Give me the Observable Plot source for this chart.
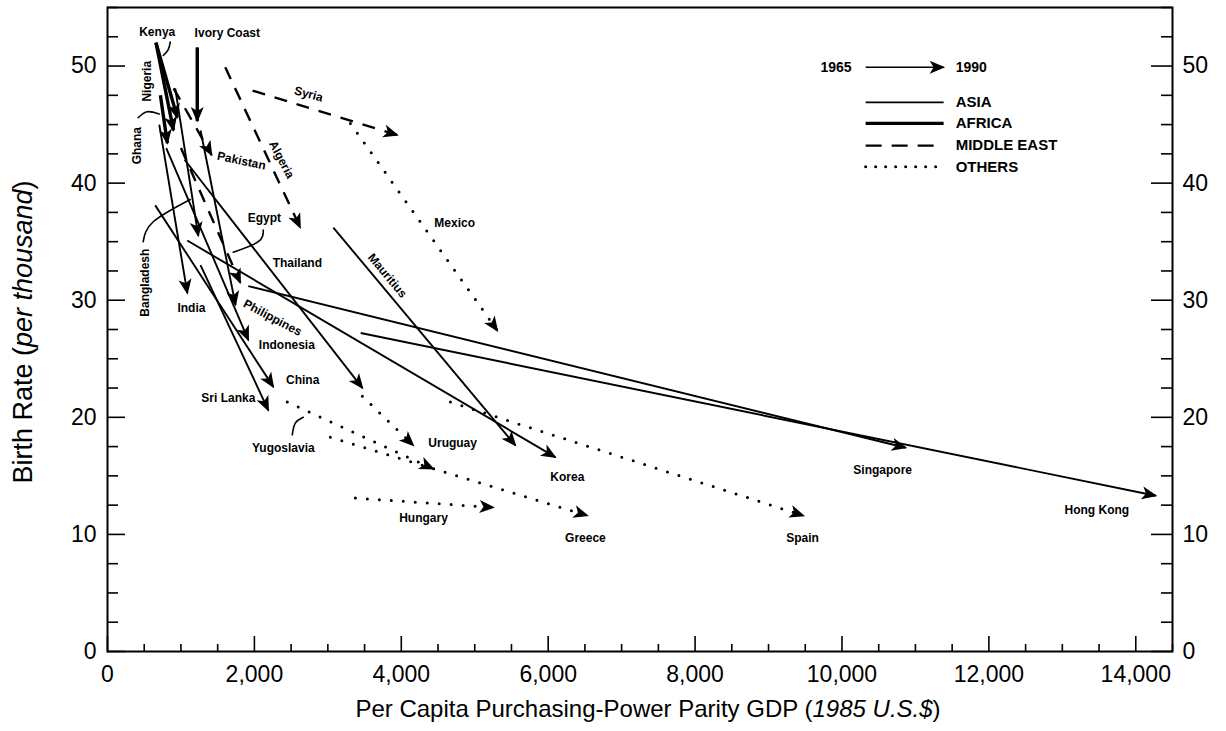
<!DOCTYPE html>
<html><head><meta charset="utf-8">
<script src="https://cdn.jsdelivr.net/npm/d3@7"></script>
<script src="https://cdn.jsdelivr.net/npm/@observablehq/plot@0.6"></script>
<style>body{margin:0;background:#fff} svg{display:block}</style>
</head><body><div id="chart"></div>
<script>
// ---- data: 1965 -> 1990 (line style follows the chart's own encoding) ----
const countries = ["Kenya","Nigeria","Ghana","Ivory Coast","Pakistan","Bangladesh","India","Philippines","Indonesia","China","Sri Lanka","Thailand","Egypt","Algeria","Syria","Korea","Singapore","Hong Kong","Mauritius","Mexico","Uruguay","Yugoslavia","Greece","Hungary","Spain"];
const regions   = ["AFRICA","AFRICA","AFRICA","AFRICA","MIDDLE EAST","ASIA","ASIA","ASIA","ASIA","ASIA","ASIA","ASIA","MIDDLE EAST","MIDDLE EAST","MIDDLE EAST","ASIA","ASIA","ASIA","ASIA","OTHERS","OTHERS","OTHERS","OTHERS","OTHERS","OTHERS"];
const gdp1965   = [660, 660, 720, 1222, 900, 922, 705, 1267, 800, 650, 1266, 1050, 1000, 1603, 1975, 1086, 1917, 3447, 3075, 3307, 3470, 2448, 3034, 3375, 4669];
const birth1965 = [52.0, 52.0, 47.5, 51.6, 48.1, 48.1, 45.0, 44.5, 43.0, 38.1, 33.0, 42.0, 43.0, 49.9, 47.9, 35.1, 31.2, 27.2, 36.2, 45.1, 21.8, 21.3, 18.3, 13.1, 21.3];
const gdp1990   = [950, 898, 815, 1222, 1418, 1236, 1087, 1743, 1918, 2258, 2190, 3472, 1808, 2624, 3947, 6097, 10868, 14273, 5554, 5309, 4165, 4437, 6535, 5255, 9478];
const birth1990 = [45.6, 44.5, 43.4, 45.3, 42.4, 35.5, 30.6, 29.6, 26.6, 22.6, 20.6, 22.5, 31.5, 36.2, 44.1, 16.6, 17.4, 13.3, 17.6, 27.4, 17.6, 15.6, 11.6, 12.3, 11.6];

// ---- country labels (anchor in data units, rotation in degrees) ----
const labelNames = ["Kenya","Ivory Coast","Nigeria","Ghana","Syria","Algeria","Pakistan","Egypt","Thailand","Mexico","Mauritius","India","Bangladesh","Philippines","Indonesia","China","Sri Lanka","Yugoslavia","Uruguay","Korea","Hungary","Greece","Spain","Singapore","Hong Kong"];
const labelX     = [677, 1631, 543, 406, 2738, 2370, 1824, 2137, 2585, 4727, 3810, 1143, 515, 2248, 2442, 2657, 1645, 2394, 4699, 6260, 4303, 6507, 9463, 10554, 13470];
const labelY     = [52.9, 52.8, 48.7, 43.2, 47.6, 42.0, 41.9, 37.0, 33.2, 36.6, 32.1, 29.3, 31.5, 28.5, 26.2, 23.2, 21.6, 17.4, 17.8, 14.9, 11.4, 9.7, 9.7, 15.5, 12.1];
const labelAngle = [0, 0, -90, -90, 15, 62, 12, 0, 0, 0, 50, 0, -90, 28, 0, 0, 0, 0, 0, 0, 0, 0, 0, 0, 0];

// ---- curved leader lines (data units) ----
const leaderId = ["Kenya","Kenya","Kenya","Ghana","Ghana","Ghana","Bangladesh","Bangladesh","Bangladesh","Egypt","Egypt","Egypt","Yugoslavia","Yugoslavia","Yugoslavia"];
const leaderX  = [854, 827, 759, 418, 541, 704, 486, 623, 1127, 2121, 2053, 1712, 2516, 2557, 2666];
const leaderY  = [52.05, 51.4, 50.9, 45.6, 46.1, 45.9, 35.0, 36.7, 38.6, 36.0, 35.0, 34.1, 18.5, 19.5, 20.0];

// ---- legend ----
const legendNames = ["ASIA","AFRICA","MIDDLE EAST","OTHERS"];
const legendY     = [46.9, 45.1, 43.2, 41.4];
const legendX1 = 10322, legendX2 = 11384, legendTextX = 11548;
const legendArrowY = 49.9;

// ---- ticks ----
const xMajor = [0, 2000, 4000, 6000, 8000, 10000, 12000, 14000];
const xMinor = d3.range(0, 14501, 500).filter(v => v % 2000 !== 0);
const yMajor = [0, 10, 20, 30, 40, 50];
const yMinor = d3.range(0, 55.01, 2.5).filter(v => v % 10 !== 0);

const arrows = countries.map((c, i) => ({country: c, region: regions[i], x1: gdp1965[i], y1: birth1965[i], x2: gdp1990[i], y2: birth1990[i]}));
const labels = labelNames.map((n, i) => ({name: n, x: labelX[i], y: labelY[i], a: labelAngle[i]}));
const leaders = leaderId.map((id, i) => ({id, x: leaderX[i], y: leaderY[i]}));
const legendRows = legendNames.map((n, i) => ({region: n, y: legendY[i]}));

const style = {
  "ASIA": {strokeWidth: 1.9},
  "AFRICA": {strokeWidth: 3.4},
  "MIDDLE EAST": {strokeWidth: 2.4, strokeDasharray: "13,10"},
  "OTHERS": {strokeWidth: 3, strokeDasharray: "0,12", strokeLinecap: "round"}
};

const W = 1226, H = 731, mL = 107, mR = 54, mT = 7, mB = 80;
const iW = W - mL - mR, iH = H - mT - mB;
const FONT = "'Liberation Sans', Arial, Helvetica, sans-serif";

const arrowMarks = Object.keys(style).map(r =>
  Plot.link(arrows.filter(d => d.region === r), {x1: "x1", y1: "y1", x2: "x2", y2: "y2", stroke: "black", className: "arrowline", ...style[r]})
);
const legendMarks = Object.keys(style).map(r =>
  Plot.link(legendRows.filter(d => d.region === r), {x1: legendX1, x2: legendX2, y1: "y", y2: "y", stroke: "black", ...style[r], strokeDasharray: style[r].strokeDasharray ? (r === "OTHERS" ? "0,10" : "16,10") : undefined})
);

const chart = Plot.plot({
  width: W, height: H,
  marginLeft: mL, marginRight: mR, marginTop: mT, marginBottom: mB,
  style: {fontFamily: FONT, background: "white", color: "black"},
  x: {domain: [0, 14500]},
  y: {domain: [0, 55]},
  marks: [
    // ticks (inward)
    Plot.ruleX(xMinor, {x: d => d, insetTop: iH - 7, strokeWidth: 1.6}),
    Plot.ruleX(xMajor, {x: d => d, insetTop: iH - 15, strokeWidth: 1.6}),
    Plot.ruleY(yMinor, {y: d => d, insetRight: iW - 11, strokeWidth: 1.6}),
    Plot.ruleY(yMajor, {y: d => d, insetRight: iW - 18, strokeWidth: 1.6}),
    Plot.ruleY(yMinor, {y: d => d, insetLeft: iW - 11, strokeWidth: 1.6}),
    Plot.ruleY(yMajor, {y: d => d, insetLeft: iW - 21, strokeWidth: 1.6}),
    Plot.frame({stroke: "black", strokeWidth: 2}),
    Plot.axisX(xMajor, {tickSize: 0, tickPadding: 14, tickFormat: d3.format(","), fontSize: 23, label: null}),
    Plot.axisY(yMajor, {anchor: "left", tickSize: 0, tickPadding: 11, fontSize: 23, label: null}),
    Plot.axisY(yMajor, {anchor: "right", tickSize: 0, tickPadding: 10, fontSize: 23, label: null}),
    // arrows
    ...arrowMarks,
    // leaders
    Plot.line(leaders, {x: "x", y: "y", z: "id", curve: "natural", stroke: "black", strokeWidth: 1.6}),
    // labels
    Plot.text(labels, {x: "x", y: "y", text: "name", rotate: "a", fontSize: 12, fontWeight: "bold", fill: "black"}),
    // legend
    Plot.link([legendArrowY], {x1: legendX1, x2: legendX2, y1: d => d, y2: d => d, stroke: "black", strokeWidth: 1.6, className: "arrowline"}),
    Plot.text(["1965"], {x: legendX1, y: legendArrowY, text: d => d, dx: -14, textAnchor: "end", fontSize: 14, fontWeight: "bold", letterSpacing: 1.5}),
    Plot.text(["1990"], {x: legendTextX, y: legendArrowY, text: d => d, textAnchor: "start", fontSize: 14, fontWeight: "bold", letterSpacing: 1.5}),
    ...legendMarks,
    Plot.text(legendRows, {x: legendTextX, y: "y", text: "region", textAnchor: "start", fontSize: 15, fontWeight: "bold", letterSpacing: 0.8})
  ]
});

// arrowheads
const svg = d3.select(chart);
const defs = svg.insert("defs", ":first-child");
defs.append("marker")
  .attr("id", "ahead").attr("markerUnits", "userSpaceOnUse")
  .attr("viewBox", "-18 -9 20 18").attr("markerWidth", 20).attr("markerHeight", 18)
  .attr("refX", 0).attr("refY", 0).attr("orient", "auto")
  .append("path").attr("d", "M1.5,0 L-14,-6.5 L-10,0 L-14,6.5 Z").attr("fill", "black").attr("stroke", "none");
chart.querySelectorAll("[class*='arrowline']").forEach(g => {
  g.querySelectorAll("path").forEach(p => p.setAttribute("marker-end", "url(#ahead)"));
});

// axis titles with italic parts
const xt = svg.append("text").attr("x", 648).attr("y", 717).attr("text-anchor", "middle")
  .attr("font-size", 24).attr("font-family", FONT).attr("fill", "black");
xt.append("tspan").text("Per Capita Purchasing-Power Parity GDP (");
xt.append("tspan").attr("font-style", "italic").text("1985 U.S.$");
xt.append("tspan").text(")");
const yt = svg.append("text").attr("transform", `translate(32,332) rotate(-90)`).attr("text-anchor", "middle")
  .attr("font-size", 27).attr("font-family", FONT).attr("fill", "black");
yt.append("tspan").text("Birth Rate (");
yt.append("tspan").attr("font-style", "italic").text("per thousand");
yt.append("tspan").text(")");

document.getElementById("chart").append(chart);
</script>
</body></html>
